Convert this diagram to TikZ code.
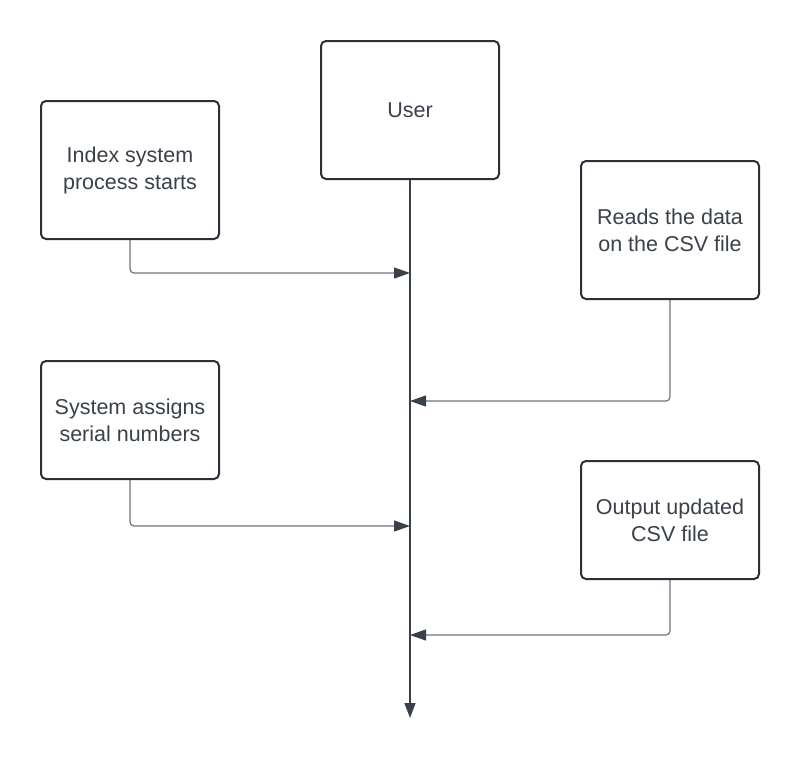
\documentclass[tikz,border=0pt]{standalone}
\usepackage{fontspec}
\setmainfont{Liberation Sans}
\usepackage{xcolor}
\usetikzlibrary{positioning,arrows.meta}
\definecolor{boxline}{HTML}{2B3038}
\definecolor{txtcol}{HTML}{3A414A}
\definecolor{linkcol}{HTML}{6E737B}
\definecolor{lifecol}{HTML}{394049}

\begin{document}
\begin{tikzpicture}[x=1pt, y=-1pt,
    stepbox/.style={draw=boxline, line width=2pt, rounded corners=5pt, fill=white,
        minimum width=178pt, minimum height=138pt, align=center, text=txtcol,
        font=\fontsize{21.5}{27}\selectfont},
    link/.style={draw=linkcol, line width=1.2pt, rounded corners=4pt,
        -{Triangle[length=16pt, width=11pt, color=lifecol]}}]
    \useasboundingbox (0,0) rectangle (800,758);
    % Boxes
    \node[stepbox] (user) at (410,110) {User};
    \node[stepbox] (start) at (130,170) {Index system\\process starts};
    \node[stepbox] (reads) at (670,230) {Reads the data\\on the CSV file};
    \node[stepbox, minimum height=118pt] (assign) at (130,420) {System assigns\\serial numbers};
    \node[stepbox, minimum height=118pt] (output) at (670,520) {Output updated\\CSV file};
    % Lifeline
    \coordinate (end) at (410,718);
    \draw[lifecol, line width=1.3pt, -{Triangle[length=15pt, width=11pt]}] (user.south) -- (end);
    % Messages
    \coordinate (m1) at (410,273);
    \coordinate (m2) at (410,401);
    \coordinate (m3) at (410,526);
    \coordinate (m4) at (410,635);
    \draw[link] (start.south) |- (m1);
    \draw[link] (reads.south) |- (m2);
    \draw[link] (assign.south) |- (m3);
    \draw[link] (output.south) |- (m4);
\end{tikzpicture}
\end{document}
